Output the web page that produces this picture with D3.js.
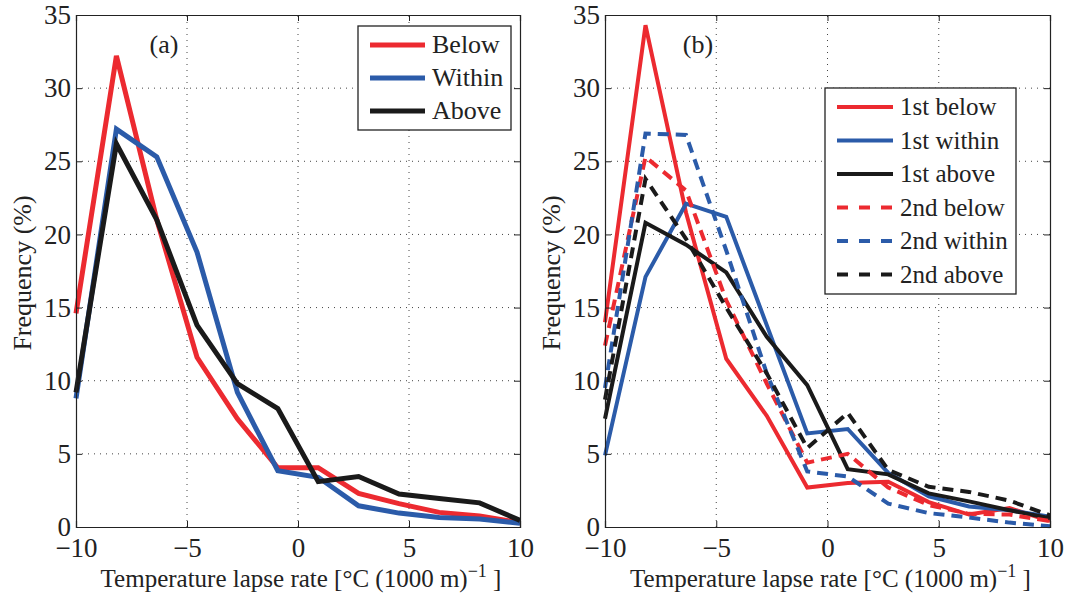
<!DOCTYPE html>
<html>
<head>
<meta charset="utf-8">
<script src="https://cdn.jsdelivr.net/npm/d3@7"></script>
<style>
  body { margin: 0; background: #fff; }
  text { font-family: "Liberation Serif", "Times New Roman", serif; fill: #222; }
</style>
</head>
<body>
<script>
// Bin centres (lapse rate, °C per 1000 m)
const bins = [-10, -8.18, -6.36, -4.55, -2.73, -0.91, 0.91, 2.73, 4.55, 6.36, 8.18, 10];

// Panel (a)
const below  = [14.6, 32.2, 21.0, 11.6, 7.4, 4.05, 4.05, 2.3, 1.6, 1.0, 0.75, 0.3];
const within = [8.8, 27.2, 25.3, 18.8, 9.2, 3.85, 3.4, 1.45, 0.95, 0.65, 0.55, 0.25];
const above  = [9.2, 26.2, 21.0, 13.8, 9.8, 8.1, 3.1, 3.45, 2.25, 1.95, 1.65, 0.45];

// Panel (b)
const below1  = [14.0, 34.3, 21.5, 11.5, 7.6, 2.7, 3.0, 3.1, 1.7, 0.85, 1.3, 0.4];
const within1 = [4.9, 17.1, 22.1, 21.2, 13.8, 6.4, 6.7, 3.7, 2.1, 1.4, 1.15, 0.7];
const above1  = [7.4, 20.8, 19.3, 17.4, 13.0, 9.7, 3.95, 3.6, 2.3, 1.75, 1.15, 0.6];
const below2  = [12.4, 25.3, 23.0, 15.5, 9.8, 4.4, 5.0, 2.7, 1.5, 0.9, 0.85, 0.4];
const within2 = [9.5, 26.9, 26.8, 18.9, 10.5, 3.8, 3.45, 1.6, 0.95, 0.65, 0.3, 0.05];
const above2  = [8.7, 23.8, 19.7, 15.0, 10.5, 5.4, 7.8, 3.9, 2.75, 2.4, 1.8, 0.8];

const xTicks = [-10, -5, 0, 5, 10];
const yTicks = [0, 5, 10, 15, 20, 25, 30, 35];

const RED = "#ec2a30", BLUE = "#2b5ba9", BLACK = "#1a1a1a";
const SERIF = "'Liberation Serif', 'Times New Roman', serif";

const svg = d3.select("body").append("svg")
    .attr("width", 1066)
    .attr("height", 595);

// one panel = one axes box
function panel(opts) {
  const x = d3.scaleLinear().domain([-10, 10]).range([opts.left, opts.right]);
  const y = d3.scaleLinear().domain([0, 35]).range([527, 15]);
  const g = svg.append("g");

  // dotted grid
  g.selectAll("line.gx").data(xTicks.slice(1, -1)).enter().append("line")
    .attr("x1", d => x(d)).attr("x2", d => x(d))
    .attr("y1", y(0)).attr("y2", y(35))
    .attr("stroke", "#444").attr("stroke-width", 1)
    .attr("stroke-dasharray", "1,5");
  g.selectAll("line.gy").data(yTicks.slice(1, -1)).enter().append("line")
    .attr("x1", x(-10)).attr("x2", x(10))
    .attr("y1", d => y(d)).attr("y2", d => y(d))
    .attr("stroke", "#444").attr("stroke-width", 1)
    .attr("stroke-dasharray", "1,5");

  // series
  const line = d3.line().x((d, i) => x(bins[i])).y(d => y(d));
  opts.series.forEach(s => {
    g.append("path")
      .attr("d", line(s.values))
      .attr("fill", "none")
      .attr("stroke", s.color)
      .attr("stroke-width", opts.lw)
      .attr("stroke-linejoin", "miter")
      .attr("stroke-dasharray", s.dash ? "11,7" : null);
  });

  // axes with inward ticks on all four sides
  const tk = 6;
  g.append("g").attr("transform", `translate(0,${y(0)})`)
    .call(d3.axisBottom(x).tickValues(xTicks).tickSize(-tk).tickPadding(11)
      .tickFormat(d => d < 0 ? "\u2212" + Math.abs(d) : d));
  g.append("g").attr("transform", `translate(0,${y(35)})`)
    .call(d3.axisTop(x).tickValues(xTicks).tickSize(-tk).tickFormat(""));
  g.append("g").attr("transform", `translate(${x(-10)},0)`)
    .call(d3.axisLeft(y).tickValues(yTicks).tickSize(-tk).tickPadding(5));
  g.append("g").attr("transform", `translate(${x(10)},0)`)
    .call(d3.axisRight(y).tickValues(yTicks).tickSize(-tk).tickFormat(""));
  g.selectAll(".domain").attr("stroke", "#222").attr("stroke-width", 1.2);
  g.selectAll(".tick line").attr("stroke", "#222");
  g.selectAll("g").attr("font-family", SERIF).attr("font-size", 27);
  g.selectAll(".tick text").attr("fill", "#222");

  // panel label
  g.append("text").attr("x", opts.tagX).attr("y", 53)
    .attr("text-anchor", "middle").style("font-size", "26px").text(opts.tag);

  // axis titles
  g.append("text")
    .attr("transform", `translate(${opts.left - 45},${(y(0) + y(35)) / 2 + 2}) rotate(-90)`)
    .attr("text-anchor", "middle").style("font-size", "26px").text("Frequency (%)");
  const xl = g.append("text").attr("x", (opts.left + opts.right) / 2 + 3).attr("y", 587)
    .attr("text-anchor", "middle").style("font-size", "25px");
  xl.append("tspan").text("Temperature lapse rate [\u00b0C (1000 m)");
  xl.append("tspan").attr("dy", -10).style("font-size", "18px").text("\u22121");
  xl.append("tspan").attr("dy", 10).text(" ]");

  // legend
  const L = opts.legend;
  g.append("rect").attr("x", L.x).attr("y", L.y).attr("width", L.w).attr("height", L.h)
    .attr("fill", "#fff").attr("stroke", "#222").attr("stroke-width", 1.3);
  opts.series.forEach((s, i) => {
    const yy = L.y + L.first + i * L.step;
    g.append("line").attr("x1", L.x + 12).attr("x2", L.x + 12 + L.len)
      .attr("y1", yy).attr("y2", yy)
      .attr("stroke", s.color).attr("stroke-width", opts.lw)
      .attr("stroke-dasharray", s.dash ? "11,11" : null);
    g.append("text").attr("x", L.x + 19 + L.len).attr("y", yy + 8)
      .style("font-size", L.fs + "px").text(s.name);
  });
}

panel({
  left: 76, right: 520, tag: "(a)", tagX: 164, lw: 5,
  series: [
    { name: "Below", values: below, color: RED },
    { name: "Within", values: within, color: BLUE },
    { name: "Above", values: above, color: BLACK }
  ],
  legend: { x: 358, y: 26, w: 153, h: 104, first: 19, step: 33, len: 55, fs: 26 }
});

panel({
  left: 605, right: 1050, tag: "(b)", tagX: 698, lw: 4,
  series: [
    { name: "1st below", values: below1, color: RED },
    { name: "1st within", values: within1, color: BLUE },
    { name: "1st above", values: above1, color: BLACK },
    { name: "2nd below", values: below2, color: RED, dash: true },
    { name: "2nd within", values: within2, color: BLUE, dash: true },
    { name: "2nd above", values: above2, color: BLACK, dash: true }
  ],
  legend: { x: 825, y: 88, w: 191, h: 206, first: 19, step: 33.5, len: 56, fs: 25 }
});
</script>
</body>
</html>
